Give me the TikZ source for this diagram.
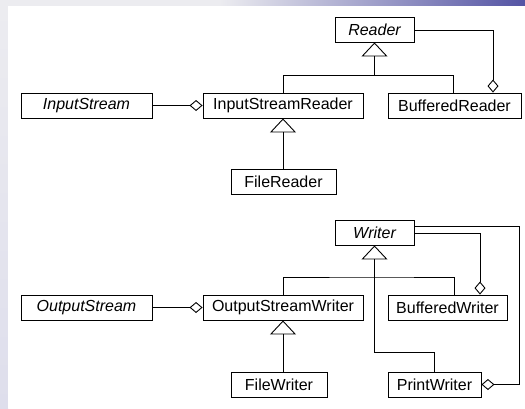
\documentclass[tikz,border=0pt]{standalone}
\usepackage{fontspec}
\setmainfont{Liberation Sans}
\usetikzlibrary{arrows.meta}
\definecolor{bgg}{RGB}{236,236,240}
\definecolor{bgl}{RGB}{222,222,236}
\definecolor{bgp}{RGB}{84,84,164}
\tikzset{
  box/.style={draw=black, line width=0.9pt, fill=white, minimum height=25pt, inner sep=0pt,
    font=\fontsize{16}{18}\selectfont},
  abs/.style={box, font=\fontsize{16}{18}\selectfont\itshape},
  conn/.style={draw=black, line width=0.9pt},
  agg/.style={conn, -{Diamond[open, length=13pt, width=11pt, line width=0.9pt]}},
  inh/.style={conn, -{Triangle[open, length=14pt, width=26pt, line width=0.9pt]}},
}
\begin{document}
\begin{tikzpicture}[x=1pt, y=-1pt]
\useasboundingbox (0,0) rectangle (525,408);
% background
\fill[bgg] (0,0) rectangle (525,408);
\shade[left color=bgg, right color=bgp] (220,0) rectangle (525,6);
\shade[top color=bgg, bottom color=bgl] (0,6) rectangle (8,408);
\fill[white] (8,6) rectangle (525,408);

% upper part
\node[abs, minimum width=79pt] (reader) at (374.5,29.5) {Reader};
\node[abs, minimum width=131pt] (istream) at (86.5,105.5) {InputStream};
\node[box, minimum width=160pt] (isr) at (283,105.5) {InputStreamReader};
\node[box, minimum width=133pt] (breader) at (454.5,105.5) {BufferedReader};
\node[box, minimum width=105pt] (freader) at (283.5,181.5) {FileReader};
\coordinate (rj) at (374.5,75);

\draw[agg] (istream.east) -- (isr.west);
\draw[inh] (isr.north) |- (rj) -- (reader.south);
\draw[conn] ([xshift=-1.5pt]breader.north) |- (rj);
\draw[agg] ([yshift=-1pt]reader.east) -| ([xshift=38.5pt]breader.north);
\draw[inh] ([xshift=-0.5pt]freader.north) -- (isr.south);

% lower part
\node[abs, minimum width=79pt] (writer) at (374.5,232.5) {Writer};
\node[abs, minimum width=131pt] (ostream) at (86.5,307.5) {OutputStream};
\node[box, minimum width=160pt] (osw) at (283,307.5) {OutputStreamWriter};
\node[box, minimum width=119pt] (bwriter) at (447.5,307.5) {BufferedWriter};
\node[box, minimum width=96pt] (fwriter) at (279,384.5) {FileWriter};
\node[box, minimum width=93pt] (pwriter) at (434.5,384.5) {PrintWriter};
\coordinate (wj) at (374.5,277);
\coordinate (pj) at (374.5,352);
\coordinate (wr) at (519,226);

\draw[agg] (ostream.east) -- (osw.west);
\draw[conn] (osw.north) |- (wj) -| ([xshift=6.5pt]bwriter.north);
\draw[inh] (pwriter.north) |- (pj) -- (writer.south);
\draw[inh] ([xshift=4pt]fwriter.north) -- (osw.south);
\draw[agg] ([yshift=-0.5pt]writer.east) -| ([xshift=32.5pt]bwriter.north);
\draw[agg] ([yshift=6.5pt]writer.east) -- (wr) |- (pwriter.east);
\end{tikzpicture}
\end{document}
